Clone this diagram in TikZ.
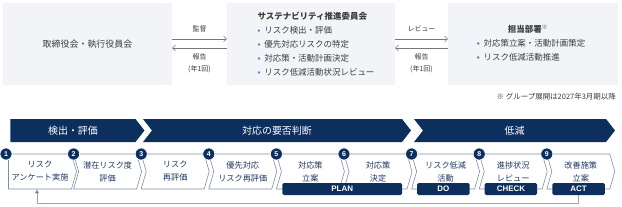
\documentclass[tikz,border=0pt]{standalone}
\usepackage{fontspec}
\setmainfont{Noto Sans CJK JP}
\newfontfamily\latinsans{Liberation Sans}
\usepackage{xcolor}
\definecolor{rknavy}{RGB}{13,47,94}
\definecolor{rkpanel}{RGB}{242,244,247}
\definecolor{rkline}{RGB}{128,143,166}
\definecolor{rkdot}{RGB}{86,140,205}
\definecolor{rktext}{RGB}{60,60,60}
\definecolor{rkstep}{RGB}{30,56,100}
\definecolor{rkloop}{RGB}{150,165,190}
\usetikzlibrary{arrows.meta,positioning,shapes.symbols,calc}

\newcommand{\rkdot}{\raisebox{0.3ex}{\tikz\fill[rkdot] (0,0) circle (1.4bp);}\hspace{4bp}}

\begin{document}
\begin{tikzpicture}[
  x=1bp, y=-1bp,
  every node/.style={inner sep=0pt, text=rktext},
  panel/.style={fill=rkpanel, draw=none, minimum height=82bp},
  flowarr/.style={-{Straight Barb[length=3bp,width=6bp]}, rktext!70, line width=0.5bp},
  arrlabel/.style={font=\fontsize{7}{12.5}\selectfont, align=center},
  phase/.style={signal, signal to=east, fill=rknavy, minimum height=23bp,
                signal pointer angle=104, text=white, font=\fontsize{10}{12}\selectfont},
  stepbox/.style={signal, signal to=east, signal from=west, draw=rkline, fill=white,
                  line width=0.6bp, minimum width=68bp, minimum height=35bp,
                  signal pointer angle=148, align=center, text=rkstep,
                  font=\fontsize{8.2}{13}\selectfont},
  stepnum/.style={circle, fill=rknavy, draw=white, line width=0.6bp, minimum size=12bp,
                  text=white, font=\latinsans\bfseries\fontsize{7}{7}\selectfont},
  pdca/.style={fill=rknavy, rounded corners=1.5bp, minimum height=12bp, text=white,
               font=\latinsans\bfseries\fontsize{8}{8}\selectfont},
  loop/.style={rkloop, line width=0.8bp, -{Triangle[length=4bp,width=4bp,fill=rknavy]}},
]
  \useasboundingbox (0,0) rectangle (622,206);

  % Top panels
  \node[panel, minimum width=169bp] (board) at (87.5,44)
    {\fontsize{9}{11}\selectfont 取締役会・執行役員会};
  \node[panel, minimum width=168bp] (comm) at (311,44) {};
  \node[panel, minimum width=170bp] (dept) at (533,44) {};

  \node[align=left, font=\fontsize{8.5}{14}\selectfont] (commtxt) at (316,44)
    {\textbf{サステナビリティ推進委員会}\\
     \rkdot リスク検出・評価\\
     \rkdot 優先対応リスクの特定\\
     \rkdot 対応策・活動計画決定\\
     \rkdot リスク低減活動状況レビュー};
  \node[font=\bfseries\fontsize{8.5}{10}\selectfont] (depttitle) at (528,29)
    {担当部署\textsuperscript{※}};
  \node[align=left, font=\fontsize{8.5}{14}\selectfont] (depttxt) at (531,50)
    {\rkdot 対応策立案・活動計画策定\\
     \rkdot リスク低減活動推進};
  \node[anchor=east, font=\fontsize{7.5}{8}\selectfont] (note) at (616,97)
    {※ グループ展開は2027年3月期以降};

  % Arrows between panels
  \draw[flowarr] ([yshift=5bp]board.east) -- ([yshift=5bp]comm.west);
  \draw[flowarr] ([yshift=-4bp]comm.west) -- ([yshift=-4bp]board.east);
  \draw[flowarr] ([yshift=5bp]comm.east) -- ([yshift=5bp]dept.west);
  \draw[flowarr] ([yshift=-4bp]dept.west) -- ([yshift=-4bp]comm.east);
  \node[arrlabel] (sup) at (199.5,29) {監督};
  \node[arrlabel] (rep1) at (199.5,63.5) {報告\\(年1回)};
  \node[arrlabel] (rev) at (421.5,29) {レビュー};
  \node[arrlabel] (rep2) at (421.5,63.5) {報告\\(年1回)};

  % Phases
  \node[phase, signal from=nowhere, minimum width=134bp] (ph1) at (73,130.5) {検出・評価};
  \node[phase, signal from=west, minimum width=268bp] (ph2) at (277,130.5) {対応の要否判断};
  \node[phase, signal from=west, minimum width=201bp] (ph3) at (514.5,130.5) {低減};

  % Steps
  \node[stepbox, signal from=nowhere] (s1) at (40,171.5) {リスク\\アンケート実施};
  \foreach \i/\txt in {2/{潜在リスク度\\評価}, 3/{リスク\\再評価},
                       4/{優先対応\\リスク再評価}, 5/{対応策\\立案}, 6/{対応策\\決定},
                       7/{リスク低減\\活動}, 8/{進捗状況\\レビュー}, 9/{改善施策\\立案}}
    \node[stepbox] (s\i) at ({40+(\i-1)*67.6},171.5) {\txt};

  % PDCA bars
  \node[pdca, minimum width=119.6bp] (plan) at (342.2,189) {PLAN};
  \node[pdca, minimum width=52.5bp] (do) at (443.35,189) {DO};
  \node[pdca, minimum width=52.5bp] (check) at (510.95,189) {CHECK};
  \node[pdca, minimum width=52.5bp] (act) at (578.55,189) {ACT};

  % Numbers
  \foreach \i in {1,...,9}
    \node[stepnum] (n\i) at ({6+(\i-1)*67.6},154) {\i};

  % Feedback loop
  \draw[loop] (act.south) -- ++(0,8) -| ([xshift=-3bp]s1.south);
\end{tikzpicture}
\end{document}
